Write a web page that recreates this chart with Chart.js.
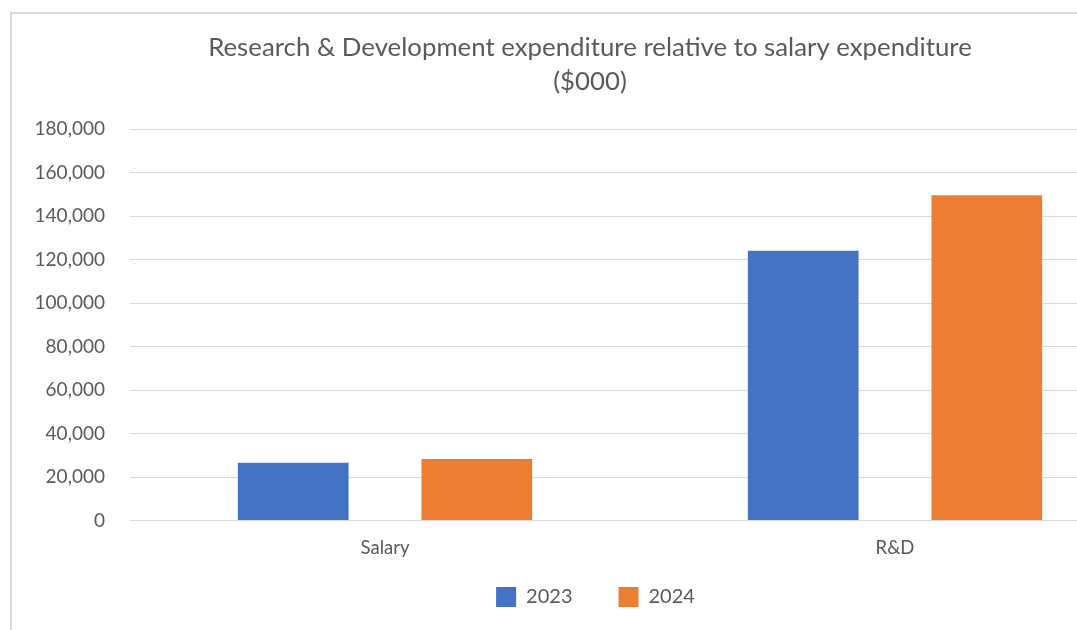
<!DOCTYPE html>
<html>
<head>
<meta charset="utf-8">
<script src="https://cdn.jsdelivr.net/npm/chart.js@4"></script>
<style>
  html, body { margin: 0; padding: 0; background: #fff; overflow: hidden; }
  body { width: 1077px; height: 630px; position: relative; }
  #box {
    position: absolute; left: 10px; top: 12px;
    width: 1156px; height: 640px;
    border: 2px solid #d9d9d9;
    background: #fff;
  }
</style>
</head>
<body>
<div id="box"><canvas id="rdChart" width="1156" height="640"></canvas></div>
<script>
// chart data
var categories = ["Salary", "R&D"];
var years = ["2023", "2024"];
var values2023 = [26600, 124000];
var values2024 = [28300, 149500];
var yTicks = [0, 20000, 40000, 60000, 80000, 100000, 120000, 140000, 160000, 180000];

var textGrey = '#595959';
var fontFam = 'Lato, "Open Sans", sans-serif';

// nudge the legend up (nearer the category labels) and a bit to the right
var legendNudge = {
    id: 'legendNudge',
    afterLayout: function (chart) {
        chart.legend.top -= 18.1;
        chart.legend.bottom -= 18.1;
        chart.legend.left += 5.5;
        chart.legend.right += 5.5;
    }
};

var rdChart = new Chart(document.getElementById("rdChart"), {
    type: 'bar',
    data: {
        labels: categories,
        datasets: [{
            label: years[0],
            data: values2023,
            backgroundColor: '#4472C4'
        }, {
            label: years[1],
            data: values2024,
            backgroundColor: '#ED7D31'
        }]
    },
    plugins: [legendNudge],
    options: {
        responsive: false,
        animation: false,
        categoryPercentage: 0.72,
        barPercentage: 0.603,
        layout: { padding: { top: 8, left: 18, right: 18, bottom: 18.9 } },
        plugins: {
            title: {
                display: true,
                text: ["Research & Development expenditure relative to salary expenditure", "($000)"],
                color: textGrey,
                font: { family: fontFam, size: 25.8, weight: 'normal', lineHeight: 1.318 },
                padding: { top: 9, bottom: 30 }
            },
            legend: {
                position: 'bottom',
                labels: {
                    color: textGrey,
                    font: { family: fontFam, size: 20 },
                    boxWidth: 20,
                    boxHeight: 20,
                    padding: 46
                }
            },
            tooltip: { enabled: false }
        },
        scales: {
            x: {
                grid: { display: false, drawTicks: false },
                border: { color: '#d9d9d9' },
                ticks: { color: textGrey, font: { family: fontFam, size: 18.5 }, padding: 16.4 },
                afterFit: function (axis) { axis.height = 38.6; }
            },
            y: {
                min: 0,
                max: 180000,
                afterBuildTicks: function (axis) {
                    axis.ticks = yTicks.map(function (v) { return { value: v }; });
                },
                afterFit: function (axis) { axis.width = 100; },
                grid: { color: '#d9d9d9', drawTicks: false },
                border: { display: false },
                ticks: {
                    color: textGrey,
                    font: { family: fontFam, size: 19 },
                    padding: 25,
                    callback: function (v) { return v.toLocaleString('en-US'); }
                }
            }
        }
    }
});
</script>
</body>
</html>
